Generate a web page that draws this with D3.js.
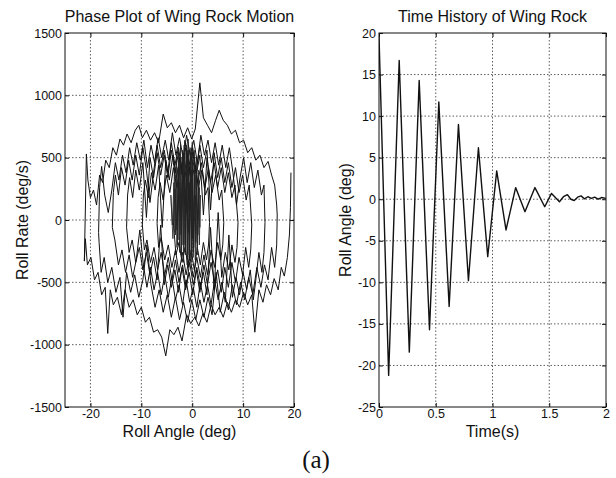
<!DOCTYPE html>
<html lang="en">
<head>
    <meta charset="UTF-8">
    <title>Wing Rock</title>
    <script src="https://cdn.jsdelivr.net/npm/d3@7"></script>
    <style>
        body {
            margin: 0;
            background: white;
        }
        text {
            font-family: "Liberation Sans", Arial, sans-serif;
            fill: #111;
        }
        .tick text {
            font-size: 12.5px;
        }
        .grid line {
            stroke: #333;
            stroke-width: 0.8;
            stroke-dasharray: 1.5, 2;
        }
        .frame {
            fill: none;
            stroke: #111;
            stroke-width: 1;
        }
    </style>
</head>
<body>
    <script>
        // tick labels
        const angleTicks = [-20, -10, 0, 10, 20];
        const rateTicks = [-1500, -1000, -500, 0, 500, 1000, 1500];
        const timeTicks = [0, 0.5, 1, 1.5, 2];
        const rollTicks = [-25, -20, -15, -10, -5, 0, 5, 10, 15, 20];

        // time history (peaks and troughs)
        const timeS = [0, 0.085, 0.178, 0.267, 0.354, 0.445, 0.527, 0.618, 0.70, 0.788, 0.876, 0.958,
            1.037, 1.119, 1.204, 1.286, 1.374, 1.46, 1.52, 1.59, 1.625, 1.66, 1.69, 1.72, 1.75, 1.78,
            1.81, 1.84, 1.87, 1.9, 1.93, 1.96, 2.0];
        const rollAngle = [19.6, -21.2, 16.7, -18.4, 14.3, -15.7, 11.7, -12.9, 9.0, -9.8, 6.2, -6.9,
            3.4, -3.7, 1.4, -1.5, 1.4, -0.9, 0.7, -0.3, 0.3, 0.55, 0.0, -0.15, 0.25, 0.4,
            0.05, 0.3, 0.1, 0.25, 0.0, 0.2, 0.1];

        // phase plot, one array per half swing [roll angle, roll rate]
        const swingDown1 = [[19.4,380],[19.3,100],[19.1,-120],[18.7,-300],[18.1,-450],[17.5,-380],[16.9,-560],[16.1,-470],[15.4,-600],[14.6,-520],[13.9,-660],[13.1,-560],[12.3,-900],[11.7,-600],[10.9,-680],[10.1,-580],[9.3,-700],[8.5,-640],[7.7,-740],[6.9,-660],[6.1,-780],[5.3,-700],[4.5,-760],[3.7,-680],[2.9,-820],[2.1,-750],[1.3,-850],[0.5,-780],[-0.3,-830],[-1.1,-760],[-2.0,-970],[-2.8,-860],[-3.6,-920],[-4.4,-880],[-5.2,-1090],[-6.0,-940],[-6.8,-880],[-7.6,-900],[-8.4,-780],[-9.2,-820],[-10.0,-700],[-10.8,-760],[-11.6,-640],[-12.4,-700],[-13.2,-560],[-13.9,-760],[-14.7,-620],[-15.5,-680],[-16.1,-560],[-16.6,-910],[-17.1,-540],[-17.8,-600],[-18.5,-420],[-19.2,-480],[-19.9,-300],[-20.6,-360],[-21.0,-150],[-21.2,-330]];
        const swingUp1 = [[-21.2,-330],[-21.0,80],[-20.8,530],[-20.5,320],[-20.0,180],[-19.4,240],[-18.8,120],[-18.2,360],[-17.6,300],[-17.0,480],[-16.3,420],[-15.6,580],[-14.9,520],[-14.2,650],[-13.5,600],[-12.8,690],[-12.0,620],[-11.2,720],[-10.5,760],[-9.8,660],[-9.0,720],[-8.2,640],[-7.4,700],[-6.6,620],[-5.7,850],[-4.9,740],[-4.1,780],[-3.3,700],[-2.5,760],[-1.7,660],[-0.9,740],[-0.1,650],[0.6,730],[1.5,1100],[2.2,820],[3.0,760],[3.8,700],[4.6,800],[5.3,880],[6.1,800],[6.9,760],[7.7,690],[8.5,720],[9.3,620],[10.1,640],[10.9,540],[11.7,580],[12.5,480],[13.3,520],[14.1,420],[14.9,470],[15.6,360],[16.2,280],[16.6,120],[16.7,40]];
        const swingDown2 = [[16.7,40],[16.6,-200],[16.2,-380],[15.6,-220],[14.9,-480],[14.2,-360],[13.5,-540],[12.7,-380],[11.9,-600],[11.1,-460],[10.3,-640],[9.5,-500],[8.7,-680],[7.9,-520],[7.1,-720],[6.3,-580],[5.5,-740],[4.7,-420],[3.9,-760],[3.1,-620],[2.3,-780],[1.5,-640],[0.7,-800],[-0.1,-640],[-0.9,-820],[-1.7,-660],[-2.5,-800],[-3.3,-620],[-4.1,-780],[-4.9,-600],[-5.7,-740],[-6.5,-560],[-7.3,-700],[-8.1,-520],[-8.9,-200],[-9.7,-480],[-10.5,-620],[-11.3,-440],[-12.1,-580],[-12.9,-420],[-13.6,-780],[-14.2,-460],[-15.0,-580],[-15.8,-380],[-16.6,-500],[-17.3,-300],[-17.9,-420],[-18.3,-180],[-18.4,-100]];
        const swingUp2 = [[-18.4,-100],[-18.2,260],[-17.8,430],[-17.2,200],[-16.5,60],[-15.8,240],[-15.1,460],[-14.4,320],[-13.7,520],[-13.0,380],[-12.3,580],[-11.6,440],[-10.9,620],[-10.2,480],[-9.5,640],[-8.8,420],[-8.1,600],[-7.4,460],[-6.7,660],[-6.0,500],[-5.3,640],[-4.6,480],[-3.9,700],[-3.2,520],[-2.5,660],[-1.8,500],[-1.1,680],[-0.4,520],[0.3,640],[1.0,460],[1.7,680],[2.4,520],[3.1,640],[3.8,460],[4.5,620],[5.2,440],[5.9,600],[6.6,420],[7.3,580],[8.0,380],[8.7,120],[9.4,340],[10.1,500],[10.8,300],[11.5,460],[12.2,260],[12.9,400],[13.6,200],[14.1,280],[14.3,-20]];
        const swingDown3 = [[14.3,-20],[14.1,-260],[13.7,-420],[13.1,-260],[12.5,-480],[12.0,-640],[11.4,-400],[10.7,-560],[10.0,-420],[9.3,-600],[8.6,-460],[7.9,-620],[7.2,-120],[6.5,-660],[5.8,-500],[5.1,-640],[4.4,-480],[3.7,-680],[3.0,-520],[2.3,-660],[1.6,-500],[0.9,-700],[0.2,-540],[-0.5,-660],[-1.2,-480],[-1.9,-680],[-2.6,-520],[-3.3,-640],[-4.0,-460],[-4.7,-620],[-5.4,-440],[-6.1,-600],[-6.8,-420],[-7.5,-560],[-8.2,-380],[-8.9,-540],[-9.6,-360],[-10.3,-80],[-11.0,-320],[-11.7,-460],[-12.4,-280],[-13.1,-420],[-13.8,-240],[-14.5,-360],[-15.2,-160],[-15.7,-60]];
        const swingUp3 = [[-15.7,-60],[-15.5,220],[-15.1,360],[-14.5,200],[-13.9,420],[-13.2,280],[-12.5,480],[-11.8,320],[-11.1,520],[-10.4,360],[-9.7,580],[-9.0,400],[-8.3,140],[-7.6,380],[-6.9,600],[-6.2,420],[-5.5,560],[-4.8,380],[-4.1,620],[-3.4,440],[-2.7,580],[-2.0,400],[-1.3,620],[-0.6,440],[0.1,580],[0.8,380],[1.5,600],[2.2,420],[2.9,560],[3.6,80],[4.3,540],[5.0,340],[5.7,500],[6.4,300],[7.1,460],[7.8,260],[8.5,420],[9.2,220],[9.9,360],[10.6,160],[11.2,280],[11.7,-40]];
        const swingDown4 = [[11.7,-40],[11.5,-240],[11.1,-380],[10.5,-220],[9.9,-440],[9.2,-300],[8.5,-500],[7.8,-340],[7.1,-540],[6.4,-380],[5.7,-580],[5.0,-400],[4.3,-560],[3.6,-60],[2.9,-600],[2.2,-420],[1.5,-580],[0.8,-400],[0.1,-600],[-0.6,-420],[-1.3,-560],[-2.0,-380],[-2.7,-580],[-3.4,-400],[-4.1,-540],[-4.8,-360],[-5.5,-520],[-6.2,-40],[-6.9,-480],[-7.6,-300],[-8.3,-440],[-9.0,-260],[-9.7,-400],[-10.4,-220],[-11.1,-340],[-11.8,-160],[-12.4,-260],[-12.9,-60]];
        const swingUp4 = [[-12.9,-60],[-12.7,200],[-12.3,340],[-11.7,180],[-11.1,400],[-10.4,240],[-9.7,460],[-9.0,20],[-8.3,500],[-7.6,340],[-6.9,540],[-6.2,360],[-5.5,520],[-4.8,340],[-4.1,560],[-3.4,380],[-2.7,540],[-2.0,360],[-1.3,580],[-0.6,400],[0.1,540],[0.8,360],[1.5,520],[2.2,40],[2.9,500],[3.6,300],[4.3,460],[5.0,260],[5.7,420],[6.4,220],[7.1,380],[7.8,180],[8.4,280],[9.0,-20]];
        const swingDown5 = [[9.0,-20],[8.8,-220],[8.4,-340],[7.8,-200],[7.2,-400],[6.5,-260],[5.8,-460],[5.1,60],[4.4,-500],[3.7,-340],[3.0,-520],[2.3,-360],[1.6,-540],[0.9,-380],[0.2,-520],[-0.5,-340],[-1.2,-540],[-1.9,-360],[-2.6,-500],[-3.3,-320],[-4.0,-480],[-4.7,-300],[-5.4,-440],[-6.1,-260],[-6.8,-400],[-7.5,-220],[-8.2,-340],[-8.9,-160],[-9.4,-240],[-9.8,-40]];
        const swingUp5 = [[-9.8,-40],[-9.6,200],[-9.2,320],[-8.6,180],[-8.0,380],[-7.3,240],[-6.6,440],[-5.9,-60],[-5.2,480],[-4.5,320],[-3.8,520],[-3.1,340],[-2.4,500],[-1.7,320],[-1.0,520],[-0.3,340],[0.4,480],[1.1,300],[1.8,460],[2.5,260],[3.2,420],[3.9,220],[4.6,360],[5.3,160],[5.8,240],[6.2,-20]];
        const swingDown6 = [[6.2,-20],[6.0,-200],[5.6,-320],[5.0,-180],[4.4,-380],[3.7,-240],[3.0,-440],[2.3,-280],[1.6,-460],[0.9,-300],[0.2,-460],[-0.5,-280],[-1.2,-440],[-1.9,-260],[-2.6,-420],[-3.3,-240],[-4.0,-380],[-4.7,-200],[-5.4,-320],[-6.1,-140],[-6.6,-220],[-6.9,-30]];
        const swingUp6 = [[-6.9,-30],[-6.7,180],[-6.3,300],[-5.7,160],[-5.1,360],[-4.4,220],[-3.7,420],[-3.0,260],[-2.3,460],[-1.6,300],[-0.9,480],[-0.2,300],[0.5,440],[1.2,260],[1.9,400],[2.6,200],[3.1,260],[3.4,-20]];
        const swingDown7 = [[3.4,-20],[3.2,-200],[2.8,-320],[2.2,-180],[1.6,-360],[1.0,-220],[0.4,-400],[-0.2,-240],[-0.8,-380],[-1.4,-220],[-2.0,-340],[-2.6,-180],[-3.2,-280],[-3.7,-20]];
        const settleCloud = [[-3.7,-20],[-3.5,420],[-3.3,-120],[-3.1,520],[-2.9,-200],[-2.7,580],[-2.5,-260],[-2.3,620],[-2.1,-300],[-1.9,560],[-1.7,-340],[-1.5,640],[-1.3,-280],[-1.1,600],[-0.9,-320],[-0.7,560],[-0.5,-260],[-0.3,520],[-0.1,-300],[0.1,480],[0.3,-220],[0.5,420],[0.7,-180],[0.9,380],[1.1,-120],[1.3,300],[1.5,-60],[1.6,200],
            [1.4,-200],[1.2,400],[1.0,-280],[0.8,500],[0.6,-320],[0.4,560],[0.2,-260],[0.0,620],[-0.2,-340],[-0.4,580],[-0.6,-300],[-0.8,650],[-1.0,-360],[-1.2,540],[-1.4,-260],[-1.6,600],[-1.8,-200],[-2.0,500],[-2.2,-280],[-2.4,460],[-2.6,-160],[-2.8,420],[-3.0,-220],[-3.2,360],[-3.4,-100],[-3.6,300],[-3.9,-40],[-4.2,200],
            [-3.8,-150],[-3.4,250],[-3.0,-80],[-2.6,480],[-2.2,100],[-1.8,520],[-1.4,0],[-1.0,560],[-0.6,80],[-0.2,520],[0.2,-80],[0.6,360],[1.0,0],[1.4,260],
            [1.0,-240],[0.6,200],[0.2,-300],[-0.2,300],[-0.6,-280],[-1.0,400],[-1.4,-200],[-1.8,300],[-2.2,-120],[-2.6,200],[-3.0,-40],
            [-2.6,300],[-2.2,0],[-1.8,420],[-1.4,120],[-1.0,460],[-0.6,160],[-0.2,400],[0.2,100],[0.0,-150],[-0.4,200],[-0.8,-100],[-1.2,250],[-1.0,50],[-0.6,300],[-0.3,100]];

        const phaseSwings = [swingDown1, swingUp1, swingDown2, swingUp2, swingDown3, swingUp3, swingDown4,
            swingUp4, swingDown5, swingUp5, swingDown6, swingUp6, swingDown7];

        //creating svg
        const width = 616;
        const height = 478;
        let svg = d3.select("body").append("svg")
            .attr("width", width)
            .attr("height", height);
        svg.append("rect").attr("width", width).attr("height", height).attr("fill", "white");

        //scales
        const phaseX = d3.scaleLinear().domain([-25, 20]).range([65, 294]);
        const phaseY = d3.scaleLinear().domain([-1500, 1500]).range([407, 33]);
        const timeX = d3.scaleLinear().domain([0, 2]).range([379, 606]);
        const timeY = d3.scaleLinear().domain([-25, 20]).range([407, 33]);

        //draws grid, frame, ticks and labels for one panel
        function drawPanel(x, y, xTicks, yTicks, title, xLabel, yLabel, yLabelX, id) {
            const [x0, x1] = x.range();
            const [y1, y0] = y.range();
            let g = svg.append("g");

            g.append("clipPath").attr("id", id)
                .append("rect").attr("x", x0).attr("y", y0).attr("width", x1 - x0).attr("height", y1 - y0);

            //dotted grid
            const xd = x.domain(), yd = y.domain();
            g.append("g").attr("class", "grid")
                .selectAll("line")
                .data(xTicks.filter(t => t > xd[0] && t < xd[1]))
                .enter().append("line")
                .attr("x1", d => x(d)).attr("x2", d => x(d))
                .attr("y1", y0).attr("y2", y1);
            g.append("g").attr("class", "grid")
                .selectAll("line")
                .data(yTicks.filter(t => t > yd[0] && t < yd[1]))
                .enter().append("line")
                .attr("y1", d => y(d)).attr("y2", d => y(d))
                .attr("x1", x0).attr("x2", x1);

            //axes with inward ticks
            let bottom = g.append("g").attr("transform", `translate(0,${y1})`)
                .call(d3.axisBottom(x).tickValues(xTicks).tickSize(-4).tickPadding(2).tickFormat(d => String(d)));
            let left = g.append("g").attr("transform", `translate(${x0},0)`)
                .call(d3.axisLeft(y).tickValues(yTicks).tickSize(-4).tickPadding(3).tickFormat(d => String(d)));
            let top = g.append("g").attr("transform", `translate(0,${y0})`)
                .call(d3.axisTop(x).tickValues(xTicks).tickSize(-4).tickFormat(""));
            let right = g.append("g").attr("transform", `translate(${x1},0)`)
                .call(d3.axisRight(y).tickValues(yTicks).tickSize(-4).tickFormat(""));
            [bottom, left, top, right].forEach(a => {
                a.select(".domain").remove();
                a.selectAll(".tick line").attr("stroke", "#111");
                a.attr("font-family", null).attr("font-size", null);
            });

            g.append("rect").attr("class", "frame")
                .attr("x", x0).attr("y", y0).attr("width", x1 - x0).attr("height", y1 - y0);

            g.append("text").text(title)
                .attr("x", (x0 + x1) / 2).attr("y", 22)
                .attr("text-anchor", "middle").attr("font-size", 16);
            g.append("text").text(xLabel)
                .attr("x", (x0 + x1) / 2).attr("y", 437)
                .attr("text-anchor", "middle").attr("font-size", 16);
            g.append("text").text(yLabel)
                .attr("transform", `translate(${yLabelX},${(y0 + y1) / 2}) rotate(-90)`)
                .attr("text-anchor", "middle").attr("font-size", 16);
            return g;
        }

        let phasePanel = drawPanel(phaseX, phaseY, angleTicks, rateTicks,
            "Phase Plot of Wing Rock Motion", "Roll Angle (deg)", "Roll Rate (deg/s)", 28, "clipPhase");
        let timePanel = drawPanel(timeX, timeY, timeTicks, rollTicks,
            "Time History of Wing Rock", "Time(s)", "Roll Angle (deg)", 351, "clipTime");

        //phase lines
        const phaseLine = d3.line().x(d => phaseX(d[0])).y(d => phaseY(d[1]));
        let phaseG = phasePanel.append("g").attr("clip-path", "url(#clipPhase)");
        phaseG.selectAll("path")
            .data(phaseSwings)
            .enter().append("path")
            .attr("d", phaseLine)
            .attr("fill", "none")
            .attr("stroke", "#111")
            .attr("stroke-width", 1)
            .attr("stroke-linejoin", "round");
        //dense settling part in the middle
        phaseG.append("path")
            .datum(settleCloud)
            .attr("d", phaseLine)
            .attr("fill", "none")
            .attr("stroke", "#222")
            .attr("stroke-width", 0.8);

        //time history line
        const timeLine = d3.line().x(d => timeX(d[0])).y(d => timeY(d[1]));
        timePanel.append("path")
            .datum(timeS.map((t, i) => [t, rollAngle[i]]))
            .attr("clip-path", "url(#clipTime)")
            .attr("d", timeLine)
            .attr("fill", "none")
            .attr("stroke", "#111")
            .attr("stroke-width", 1.4)
            .attr("stroke-linejoin", "round");

        //caption
        svg.append("text").text("(a)")
            .attr("x", 316).attr("y", 468)
            .attr("text-anchor", "middle")
            .style("font-family", "'Liberation Serif', 'Times New Roman', serif")
            .attr("font-size", 25);
    </script>
</body>
</html>
